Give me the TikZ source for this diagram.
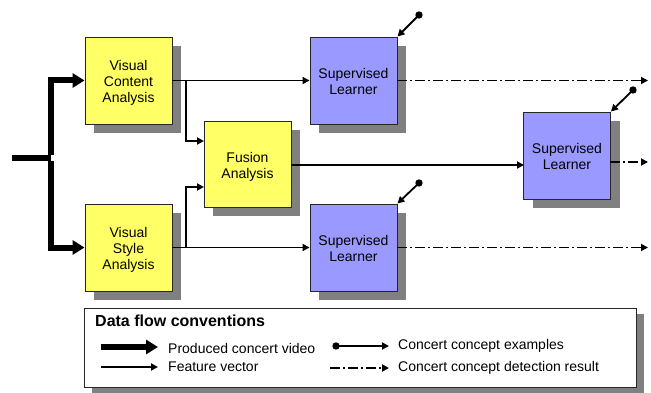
\documentclass[tikz,border=0pt]{standalone}
\usepackage{fontspec}
\setmainfont{Liberation Sans}
\usetikzlibrary{arrows.meta,shadows}

\definecolor{anayellow}{HTML}{FFFF66}
\definecolor{learnblue}{HTML}{9999FF}
\definecolor{shadowgray}{HTML}{808080}

% centred block label, set a little below the block's middle
\newcommand\blocklines[1]{\raisebox{-3pt}[\height][\depth]{\begin{tabular}{@{}c@{}}#1\end{tabular}}}

\tikzset{
  procbox/.style={draw=black!85, line width=0.9pt, minimum width=87pt, minimum height=87pt,
    inner sep=0pt, font=\fontsize{14}{16}\selectfont,
    drop shadow={shadow xshift=9pt, shadow yshift=-9pt, fill=shadowgray, opacity=1}},
  analysis/.style={procbox, fill=anayellow},
  learner/.style={procbox, fill=learnblue},
  videoflow/.style={line width=6pt, -{Triangle[length=12pt,width=14pt]}},
  featureflow/.style={line width=1.8pt, -{Triangle[length=7pt,width=7pt]}},
  exampleflow/.style={line width=1.8pt, -{Triangle[length=7pt,width=7pt]}},
  resultflow/.style={line width=1.8pt, dash pattern=on 10pt off 3pt on 2pt off 3pt,
    -{Triangle[length=7pt,width=7pt]}},
  legtext/.style={anchor=west, inner sep=0pt, font=\fontsize{14}{16}\selectfont},
}

\begin{document}
\begin{tikzpicture}[x=1pt, y=-1pt]
\useasboundingbox (0,0) rectangle (651,393);

% processing blocks
\node[analysis] (vca) at (128.5,80.5) {\blocklines{Visual\\Content\\Analysis}};
\node[analysis] (vsa) at (128.5,247.5) {\blocklines{Visual\\Style\\Analysis}};
\node[analysis, minimum height=86pt] (fus) at (247.5,164) {\blocklines{Fusion\\Analysis}};
\node[learner] (sl1) at (353.5,80.5) {\blocklines{Supervised\\Learner}};
\node[learner] (sl2) at (353.5,247.5) {\blocklines{Supervised\\Learner}};
\node[learner] (sl3) at (567,155.5) {\blocklines{Supervised\\Learner}};

% produced concert video
\coordinate (vin) at (12,158);
\coordinate (vsplit) at (51,158);
\draw[line width=6pt] (vin) -- (vsplit);
\draw[videoflow] ([yshift=3pt]vsplit) |- (vca.west);
\draw[videoflow] ([yshift=-3pt]vsplit) |- (vsa.west);

% feature vectors
\coordinate (b1) at (186,80.5);
\coordinate (b2) at (186,247.5);
\coordinate (f1) at (204,141);
\coordinate (f2) at (204,187);
\coordinate (f3) at (291,165);
\coordinate (l3in) at (524,165);
\draw[featureflow] (vca.east) -- (sl1.west);
\draw[featureflow] (vsa.east) -- (sl2.west);
\draw[featureflow] (b1) |- (f1);
\draw[featureflow] (b2) |- (f2);
\draw[featureflow] (f3) -- (l3in);

% detection results
\coordinate (r1) at (648,80.5);
\coordinate (r2) at (648,247.5);
\coordinate (r3s) at (610,162);
\coordinate (r3) at (648,162);
\draw[resultflow] (sl1.east) -- (r1);
\draw[resultflow] (sl2.east) -- (r2);
\draw[resultflow] (r3s) -- (r3);

% concept examples
\coordinate (e1) at (419,15);
\coordinate (e2) at (419,183);
\coordinate (e3) at (633,90);
\foreach \e/\l in {e1/sl1, e2/sl2, e3/sl3}{
  \fill (\e) circle (3.7pt);
  \draw[exampleflow] (\e) -- (\l.north east);
}

% legend
\node[draw=black!85, line width=0.9pt, fill=white, minimum width=552pt, minimum height=79pt,
  inner sep=0pt, drop shadow={shadow xshift=8pt, shadow yshift=-6pt, fill=shadowgray, opacity=1}]
  (legend) at (360,347.5) {};
\node[anchor=west, inner sep=0pt, font=\fontsize{16}{18}\selectfont\bfseries] (legtitle) at (95,321) {Data flow conventions};

\coordinate (lv1) at (101,347);
\coordinate (lv2) at (158,347);
\draw[videoflow] (lv1) -- (lv2);
\node[legtext] (tvideo) at (168,348) {Produced concert video};

\coordinate (lf1) at (101,367);
\coordinate (lf2) at (158,367);
\draw[featureflow] (lf1) -- (lf2);
\node[legtext] (tfeat) at (168,367) {Feature vector};

\coordinate (le1) at (336,346);
\coordinate (le2) at (389,346);
\fill (le1) circle (3.7pt);
\draw[exampleflow] (le1) -- (le2);
\node[legtext] (texam) at (398,346) {Concert concept examples};

\coordinate (lr1) at (330,368);
\coordinate (lr2) at (389,368);
\draw[resultflow] (lr1) -- (lr2);
\node[legtext] (tres) at (398,368) {Concert concept detection result};
\end{tikzpicture}
\end{document}
